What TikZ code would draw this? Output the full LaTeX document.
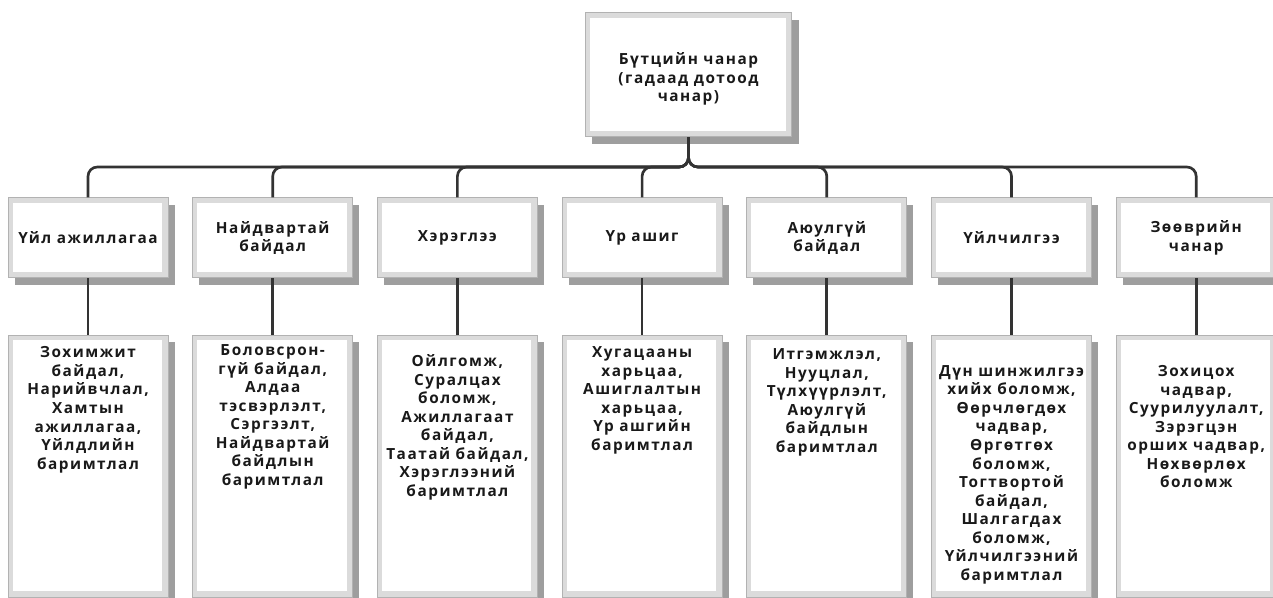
\documentclass[tikz,border=0pt]{standalone}
\usepackage{fontspec}
\setmainfont{Open Sans}
\newfontfamily\boxfont{Open Sans Bold}[LetterSpace=10]
\usepackage{tikz}
\usetikzlibrary{shadows}
\usetikzlibrary{positioning}

\tikzset{
  frame/.style={draw=black!30, line width=0.75pt, fill=black!14,
    drop shadow={shadow xshift=5pt, shadow yshift=-5pt, fill=black!38, opacity=1},
    path picture={\fill[white] ([shift={(3.5pt,-3.5pt)}]path picture bounding box.north west)
      rectangle ([shift={(-4.5pt,4.5pt)}]path picture bounding box.south east);}},
  boxtext/.style={font=\boxfont\fontsize{11.5}{13.9}\selectfont, text=black!90, align=center},
  mainbox/.style={frame, minimum width=155pt, minimum height=93pt},
  groupbox/.style={frame, boxtext, minimum width=120pt, minimum height=60pt},
  itembox/.style={frame, minimum width=120pt, minimum height=196.5pt},
  itemtext/.style={boxtext, inner sep=0pt},
  link/.style={draw=black!80, line width=2pt, rounded corners=7pt}
}

\begin{document}
\begin{tikzpicture}[x=0.75pt, y=-0.75pt]
\useasboundingbox (0,0) rectangle (1273,598);

%top
\node[mainbox] (top) at (688.5,75) {};
\node[itemtext, below=30pt of top.north] (t0) {Бүтцийн чанар\\(гадаад дотоод\\чанар)};
\coordinate (bus) at (0,167);

%groups
\foreach \i/\t in {1/{Үйл ажиллагаа}, 2/{Найдвартай\\байдал}, 3/{Хэрэглээ},
    4/{Үр ашиг}, 5/{Аюулгүй\\байдал}, 6/{Үйлчилгээ}, 7/{Зөөврийн\\чанар}} {
  \node[groupbox] (g\i) at (88+184.7*\i-184.7, 238) {\t};
  \node[itembox] (b\i) at (88+184.7*\i-184.7, 466) {};
}

%items
\node[itemtext, below=9pt of b1.north] (t1) {Зохимжит\\байдал,\\Нарийвчлал,\\Хамтын\\ажиллагаа,\\Үйлдлийн\\баримтлал};
\node[itemtext, below=7.5pt of b2.north] (t2) {Боловсрон-\\гүй байдал,\\Алдаа\\тэсвэрлэлт,\\Сэргээлт,\\Найдвартай\\байдлын\\баримтлал};
\node[itemtext, below=15pt of b3.north] (t3) {Ойлгомж,\\Суралцах\\боломж,\\Ажиллагаат\\байдал,\\Таатай байдал,\\Хэрэглээний\\баримтлал};
\node[itemtext, below=9pt of b4.north] (t4) {Хугацааны\\харьцаа,\\Ашиглалтын\\харьцаа,\\Үр ашгийн\\баримтлал};
\node[itemtext, below=10.5pt of b5.north] (t5) {Итгэмжлэл,\\Нууцлал,\\Түлхүүрлэлт,\\Аюулгүй\\байдлын\\баримтлал};
\node[itemtext, below=23pt of b6.north] (t6) {Дүн шинжилгээ\\хийх боломж,\\Өөрчлөгдөх\\чадвар,\\Өргөтгөх\\боломж,\\Тогтвортой\\байдал,\\Шалгагдах\\боломж,\\Үйлчилгээний\\баримтлал};
\node[itemtext, below=23pt of b7.north] (t7) {Зохицох\\чадвар,\\Суурилуулалт,\\Зэрэгцэн\\орших чадвар,\\Нөхвөрлөх\\боломж};

%links
\foreach \i in {1,...,7} {
  \draw[link] (top.south) |- (g\i.north |- bus) -- (g\i.north);
  \draw[link] (g\i.south) -- (b\i.north);
}
\end{tikzpicture}
\end{document}
